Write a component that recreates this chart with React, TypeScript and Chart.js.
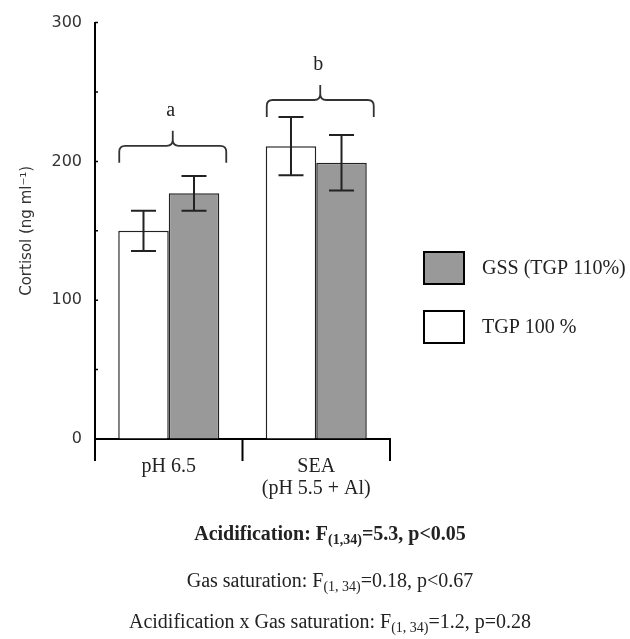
import React, { useEffect, useRef } from "react";
import { Chart, registerables } from "chart.js";

Chart.register(...registerables);

// ---------- data ----------
const categories: (string | string[])[] = ["pH 6.5", ["SEA", "(pH 5.5 + Al)"]];
const seriesLabels = ["TGP 100 %", "GSS (TGP 110%)"];
const tgp100Values = [150, 211];
const gss110Values = [177, 199];
const tgp100Errors = [14.5, 21];
const gss110Errors = [12.5, 20];
const groupLetters = ["a", "b"];
const braceLevels = [199, 232];
const yTickLabels = [0, 100, 200, 300];
const yTitle = "Cortisol (ng ml\u207B\u00B9)";
const statsNames = ["Acidification: F", "Gas saturation: F", "Acidification x Gas saturation: F"];
const statsDf = ["(1,34)", "(1, 34)", "(1, 34)"];
const statsResults = ["=5.3, p<0.05", "=0.18, p<0.67", "=1.2, p=0.28"];
const statsBold = [true, false, false];

const WHITE = "#ffffff";
const GRAY = "#999999";
const INK = "#222222";
const SERIF = "'Liberation Serif', 'Times New Roman', serif";
const SANS = "'DejaVu Sans', Verdana, sans-serif";

const overlayPlugin = {
  id: "overlay",
  afterDatasetsDraw(chart: any) {
    const ctx = chart.ctx as CanvasRenderingContext2D;
    const y = chart.scales.y;
    ctx.save();
    ctx.strokeStyle = INK;
    ctx.lineWidth = 2;
    chart.data.datasets.forEach((ds: any, di: number) => {
      const meta = chart.getDatasetMeta(di);
      meta.data.forEach((bar: any, i: number) => {
        const v = ds.data[i];
        const e = ds.errors[i];
        const xp = bar.x;
        const t = y.getPixelForValue(v + e);
        const b = y.getPixelForValue(v - e);
        const cap = 12.5;
        ctx.beginPath();
        ctx.moveTo(xp, t);
        ctx.lineTo(xp, b);
        ctx.moveTo(xp - cap, t);
        ctx.lineTo(xp + cap, t);
        ctx.moveTo(xp - cap, b);
        ctx.lineTo(xp + cap, b);
        ctx.stroke();
      });
    });
    ctx.restore();
  },
  afterDraw(chart: any) {
    const ctx = chart.ctx as CanvasRenderingContext2D;
    const x = chart.scales.x;
    const y = chart.scales.y;
    const area = chart.chartArea;
    ctx.save();

    // axis extras
    ctx.strokeStyle = "#000";
    ctx.lineWidth = 2;
    const n = categories.length;
    const half = (x.getPixelForValue(1) - x.getPixelForValue(0)) / 2;
    ctx.beginPath();
    for (let i = 0; i <= n; i++) {
      const xb = i < n ? x.getPixelForValue(i) - half : x.getPixelForValue(n - 1) + half;
      ctx.moveTo(xb, area.bottom);
      ctx.lineTo(xb, area.bottom + 22);
    }
    ctx.stroke();
    ctx.lineWidth = 1.5;
    ctx.beginPath();
    for (let v = 0; v <= 300; v += 50) {
      const yp = y.getPixelForValue(v);
      ctx.moveTo(area.left, yp);
      ctx.lineTo(area.left + 3, yp);
    }
    ctx.stroke();

    // braces + letters
    ctx.strokeStyle = "#333";
    ctx.lineWidth = 1.8;
    const r = 6;
    for (let i = 0; i < n; i++) {
      const xm = x.getPixelForValue(i) + 4;
      const x0 = xm - 53.5;
      const x1 = xm + 53.5;
      const yb = y.getPixelForValue(braceLevels[i]);
      const yt = yb - 17;
      const yp = yt - 15;
      ctx.beginPath();
      ctx.moveTo(x0, yb);
      ctx.lineTo(x0, yt + r);
      ctx.quadraticCurveTo(x0, yt, x0 + r, yt);
      ctx.lineTo(xm - r, yt);
      ctx.quadraticCurveTo(xm, yt, xm, yt - r);
      ctx.lineTo(xm, yp);
      ctx.moveTo(x1, yb);
      ctx.lineTo(x1, yt + r);
      ctx.quadraticCurveTo(x1, yt, x1 - r, yt);
      ctx.lineTo(xm + r, yt);
      ctx.quadraticCurveTo(xm, yt, xm, yt - r);
      ctx.stroke();
      ctx.fillStyle = INK;
      ctx.font = `20px ${SERIF}`;
      ctx.textAlign = "center";
      ctx.textBaseline = "alphabetic";
      ctx.fillText(groupLetters[i], xm - 2, yp - 15);
    }

    // legend (reverse dataset order)
    const ds = chart.data.datasets;
    const legendTops = [252, 311];
    ctx.lineWidth = 2;
    ctx.strokeStyle = "#000";
    ctx.font = `20px ${SERIF}`;
    ctx.textAlign = "left";
    ctx.textBaseline = "middle";
    for (let k = 0; k < ds.length; k++) {
      const d = ds[ds.length - 1 - k];
      const top = legendTops[k];
      ctx.fillStyle = d.backgroundColor;
      ctx.fillRect(424, top, 40, 32);
      ctx.strokeRect(424, top, 40, 32);
      ctx.fillStyle = INK;
      ctx.fillText(d.label, 482, top + 16 + 1);
    }

    // stats text
    const baselines = [540, 587, 628];
    const cx = 330;
    ctx.textBaseline = "alphabetic";
    ctx.textAlign = "left";
    for (let i = 0; i < statsNames.length; i++) {
      const w = statsBold[i] ? "bold " : "";
      const big = `${w}20px ${SERIF}`;
      const small = `${w}14px ${SERIF}`;
      ctx.font = big;
      const w1 = ctx.measureText(statsNames[i]).width;
      const w3 = ctx.measureText(statsResults[i]).width;
      ctx.font = small;
      const w2 = ctx.measureText(statsDf[i]).width;
      let xs = cx - (w1 + w2 + w3) / 2;
      const bl = baselines[i];
      ctx.fillStyle = INK;
      ctx.font = big;
      ctx.fillText(statsNames[i], xs, bl);
      xs += w1;
      ctx.font = small;
      ctx.fillText(statsDf[i], xs, bl + 4);
      xs += w2;
      ctx.font = big;
      ctx.fillText(statsResults[i], xs, bl);
    }
    ctx.restore();
  },
};

export default function App() {
  const ref = useRef<HTMLCanvasElement | null>(null);

  useEffect(() => {
    document.body.style.margin = "0";
    const canvas = ref.current;
    if (!canvas) return;
    const chart = new Chart(canvas, {
      type: "bar",
      data: {
        labels: categories,
        datasets: [
          {
            label: seriesLabels[0],
            data: tgp100Values,
            errors: tgp100Errors,
            backgroundColor: WHITE,
            borderColor: INK,
            borderWidth: 1.5,
          } as any,
          {
            label: seriesLabels[1],
            data: gss110Values,
            errors: gss110Errors,
            backgroundColor: GRAY,
            borderColor: INK,
            borderWidth: 1.5,
          } as any,
        ],
      },
      options: {
        responsive: false,
        devicePixelRatio: 1,
        animation: false,
        layout: { padding: { left: 0, top: 16, right: 240, bottom: 0 } },
        datasets: { bar: { categoryPercentage: 0.685, barPercentage: 1 } },
        plugins: { legend: { display: false }, tooltip: { enabled: false } },
        scales: {
          x: {
            type: "category",
            offset: true,
            grid: { display: true, drawOnChartArea: false, drawTicks: false },
            border: { display: true, color: "#000", width: 2 },
            ticks: {
              font: { family: SERIF, size: 20, lineHeight: 1.1 },
              color: INK,
              padding: 17,
              maxRotation: 0,
              autoSkip: false,
            },
            afterFit: (s: any) => {
              s.height = 200;
            },
          },
          y: {
            min: 0,
            max: 300,
            grid: { display: true, drawOnChartArea: false, drawTicks: false },
            border: { display: true, color: "#000", width: 2 },
            ticks: {
              stepSize: 50,
              autoSkip: false,
              callback: (v: any) => (yTickLabels.includes(Number(v)) ? String(v) : ""),
              font: { family: SANS, size: 16 },
              color: "#333",
              padding: 13,
            },
            title: {
              display: true,
              text: yTitle,
              font: { family: SANS, size: 15 },
              color: "#333",
              padding: { top: 18, bottom: 0 },
            },
            afterFit: (s: any) => {
              s.width = 95;
            },
          },
        },
      } as any,
      plugins: [overlayPlugin],
    });
    return () => chart.destroy();
  }, []);

  return (
    <div style={{ width: 630, height: 639, background: "#fff" }}>
      <canvas ref={ref} width={630} height={639} style={{ display: "block" }} />
    </div>
  );
}
